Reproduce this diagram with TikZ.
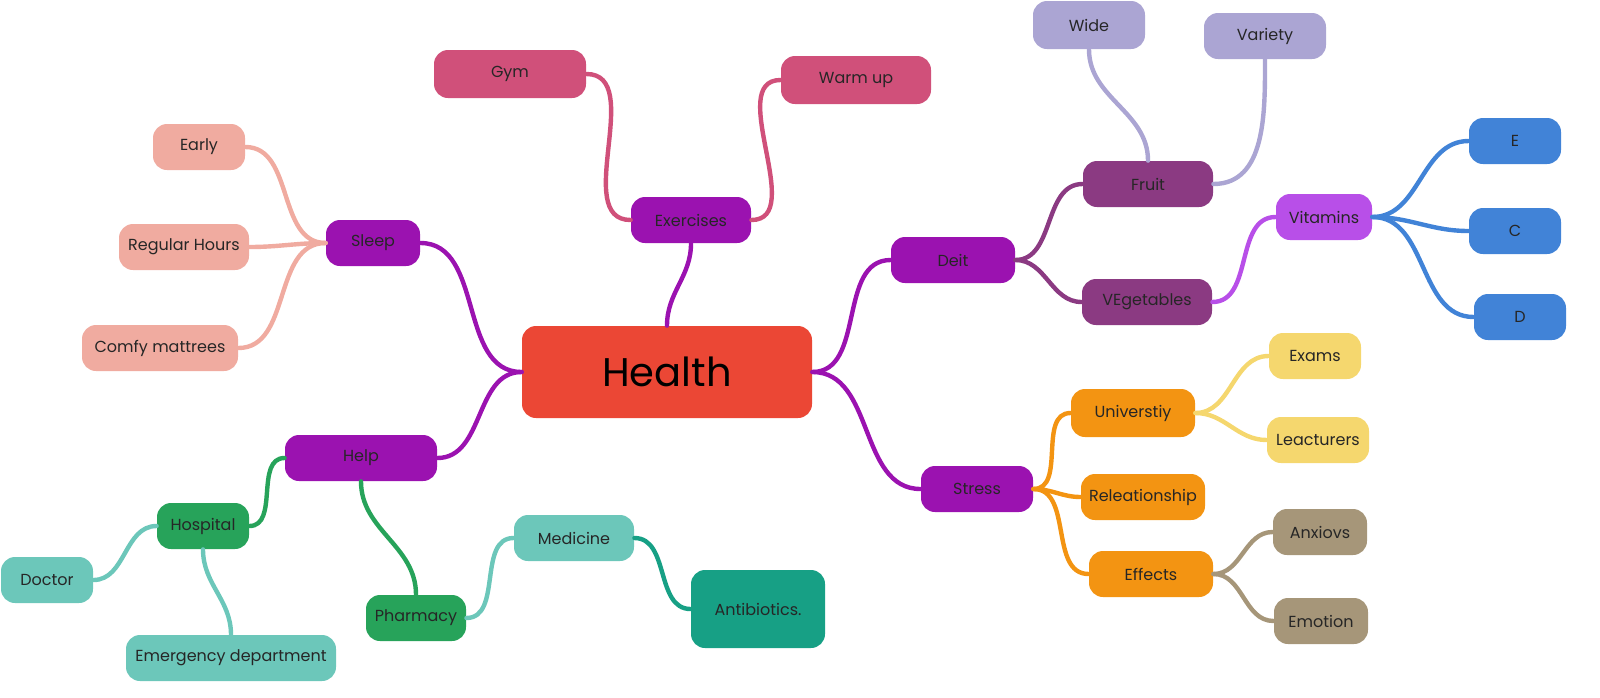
\documentclass[tikz,border=0pt]{standalone}
\usepackage{fontspec}
\setmainfont{Poppins}
\definecolor{cred}{HTML}{EB4735}
\definecolor{cpur}{HTML}{9B12B0}
\definecolor{cpink}{HTML}{D0507A}
\definecolor{csal}{HTML}{F0ABA0}
\definecolor{cgreen}{HTML}{27A35A}
\definecolor{cteal}{HTML}{6CC7BA}
\definecolor{cdteal}{HTML}{17A085}
\definecolor{cplum}{HTML}{8B3A82}
\definecolor{clav}{HTML}{ABA5D3}
\definecolor{cvio}{HTML}{B84FE8}
\definecolor{cblue}{HTML}{4183D7}
\definecolor{corange}{HTML}{F39412}
\definecolor{cyel}{HTML}{F5D76E}
\definecolor{ctan}{HTML}{A69679}
\tikzset{
 bx/.style={rounded corners=7pt,inner sep=0pt,font=\fontsize{8}{10}\selectfont\color{black!85}},
 ln/.style={line width=2.2pt,line cap=round},
}
\begin{document}
\begin{tikzpicture}[x=0.5pt,y=-0.5pt]
\useasboundingbox (0,0) rectangle (1600,697);
\node[bx,fill=cred,minimum width=145pt,minimum height=46pt,font=\fontsize{20}{24}\selectfont] (Health) at (667,372) {Health};
\node[bx,fill=cpur,minimum width=60pt,minimum height=23pt] (Exercises) at (691,220) {Exercises};
\node[bx,fill=cpink,minimum width=76pt,minimum height=24pt] (Gym) at (510,74) {Gym};
\node[bx,fill=cpink,minimum width=75pt,minimum height=24pt] (Warm) at (856,80) {Warm up};
\node[bx,fill=cpur,minimum width=47pt,minimum height=23pt] (Sleep) at (373,243) {Sleep};
\node[bx,fill=csal,minimum width=46pt,minimum height=23pt] (Early) at (199,147) {Early};
\node[bx,fill=csal,minimum width=65pt,minimum height=23pt] (Reg) at (184,247) {Regular Hours};
\node[bx,fill=csal,minimum width=78pt,minimum height=23pt] (Comfy) at (160,348) {Comfy mattrees};
\node[bx,fill=cpur,minimum width=76pt,minimum height=23pt] (Help) at (361,458) {Help};
\node[bx,fill=cgreen,minimum width=46pt,minimum height=23pt] (Hosp) at (203,526) {Hospital};
\node[bx,fill=cteal,minimum width=46pt,minimum height=23pt] (Doc) at (47,580) {Doctor};
\node[bx,fill=cteal,minimum width=105pt,minimum height=23pt] (Emerg) at (231,658) {Emergency department};
\node[bx,fill=cgreen,minimum width=50pt,minimum height=23pt] (Pharm) at (416,618) {Pharmacy};
\node[bx,fill=cteal,minimum width=60pt,minimum height=23pt] (Med) at (574,538) {Medicine};
\node[bx,fill=cdteal,minimum width=67pt,minimum height=39pt] (Anti) at (758,609) {Antibiotics.};
\node[bx,fill=cpur,minimum width=62pt,minimum height=23pt] (Deit) at (953,260) {Deit};
\node[bx,fill=cplum,minimum width=65pt,minimum height=23pt] (Fruit) at (1148,184) {Fruit};
\node[bx,fill=clav,minimum width=56pt,minimum height=24pt] (Wide) at (1089,25) {Wide};
\node[bx,fill=clav,minimum width=61pt,minimum height=23pt] (Var) at (1265,36) {Variety};
\node[bx,fill=cplum,minimum width=65pt,minimum height=23pt] (Veg) at (1147,302) {VEgetables};
\node[bx,fill=cvio,minimum width=48pt,minimum height=23pt] (Vit) at (1324,217) {Vitamins};
\node[bx,fill=cblue,minimum width=46pt,minimum height=23pt] (E) at (1515,141) {E};
\node[bx,fill=cblue,minimum width=46pt,minimum height=23pt] (C) at (1515,231) {C};
\node[bx,fill=cblue,minimum width=46pt,minimum height=23pt] (D) at (1520,317) {D};
\node[bx,fill=cpur,minimum width=56pt,minimum height=23pt] (Stress) at (977,489) {Stress};
\node[bx,fill=corange,minimum width=62pt,minimum height=24pt] (Uni) at (1133,413) {Universtiy};
\node[bx,fill=corange,minimum width=62pt,minimum height=23pt] (Rel) at (1143,497) {Releationship};
\node[bx,fill=corange,minimum width=62pt,minimum height=23pt] (Eff) at (1151,574) {Effects};
\node[bx,fill=cyel,minimum width=46pt,minimum height=23pt] (Exams) at (1315,356) {Exams};
\node[bx,fill=cyel,minimum width=51pt,minimum height=23pt] (Lea) at (1318,440) {Leacturers};
\node[bx,fill=ctan,minimum width=47pt,minimum height=23pt] (Anx) at (1320,532) {Anxiovs};
\node[bx,fill=ctan,minimum width=47pt,minimum height=23pt] (Emo) at (1321,621) {Emotion};
\draw[ln,cpur] (Health.north) to[out=90,in=-90] (Exercises.south);
\draw[ln,cpink] (Exercises.west) to[out=180,in=0] (Gym.east);
\draw[ln,cpink] (Exercises.east) to[out=0,in=180] (Warm.west);
\draw[ln,cpur] (Health.west) to[out=180,in=0] (Sleep.east);
\draw[ln,cpur] (Health.west) to[out=180,in=0] (Help.east);
\draw[ln,csal] (Sleep.west) to[out=180,in=0] (Early.east);
\draw[ln,csal] (Sleep.west) to[out=180,in=0] (Reg.east);
\draw[ln,csal] (Sleep.west) to[out=180,in=0] (Comfy.east);
\draw[ln,cgreen] (Help.west) to[out=180,in=0] (Hosp.east);
\draw[ln,cgreen] (Help.south) to[out=-90,in=90] (Pharm.north);
\draw[ln,cteal] (Hosp.west) to[out=180,in=0] (Doc.east);
\draw[ln,cteal] (Hosp.south) to[out=-90,in=90] (Emerg.north);
\draw[ln,cteal] (Pharm.east) to[out=0,in=180] (Med.west);
\draw[ln,cdteal] (Med.east) to[out=0,in=180] (Anti.west);
\draw[ln,cpur] (Health.east) to[out=0,in=180] (Deit.west);
\draw[ln,cpur] (Health.east) to[out=0,in=180] (Stress.west);
\draw[ln,cplum] (Deit.east) to[out=0,in=180] (Fruit.west);
\draw[ln,cplum] (Deit.east) to[out=0,in=180] (Veg.west);
\draw[ln,clav] (Fruit.north) to[out=90,in=-90] (Wide.south);
\draw[ln,clav] (Fruit.east) to[out=0,in=-90] (Var.south);
\draw[ln,cvio] (Veg.east) to[out=0,in=180] (Vit.west);
\draw[ln,cblue] (Vit.east) to[out=0,in=180] (E.west);
\draw[ln,cblue] (Vit.east) to[out=0,in=180] (C.west);
\draw[ln,cblue] (Vit.east) to[out=0,in=180] (D.west);
\draw[ln,corange] (Stress.east) to[out=0,in=180] (Uni.west);
\draw[ln,corange] (Stress.east) to[out=0,in=180] (Rel.west);
\draw[ln,corange] (Stress.east) to[out=0,in=180] (Eff.west);
\draw[ln,cyel] (Uni.east) to[out=0,in=180] (Exams.west);
\draw[ln,cyel] (Uni.east) to[out=0,in=180] (Lea.west);
\draw[ln,ctan] (Eff.east) to[out=0,in=180] (Anx.west);
\draw[ln,ctan] (Eff.east) to[out=0,in=180] (Emo.west);
\end{tikzpicture}
\end{document}
